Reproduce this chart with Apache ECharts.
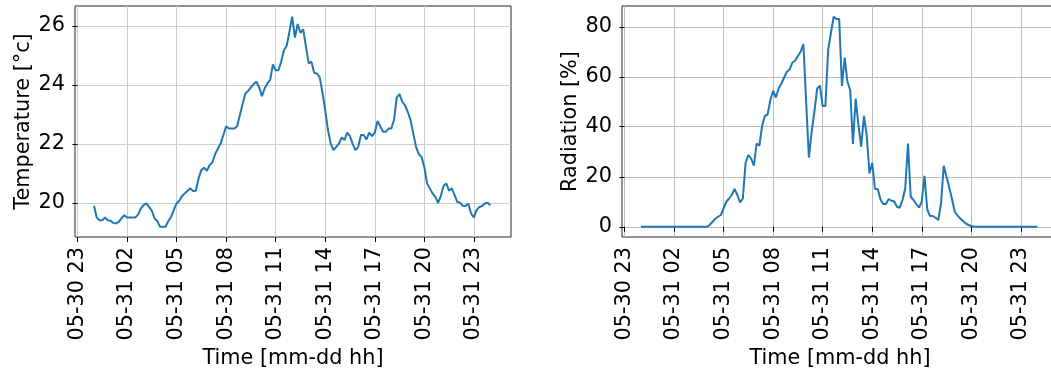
<!DOCTYPE html>
<html>
<head>
<meta charset="utf-8">
<script src="https://cdn.jsdelivr.net/npm/echarts@6/dist/echarts.min.js"></script>
<style>
  html, body { margin: 0; padding: 0; background: #ffffff; }
  #chart { width: 1051px; height: 369px; }
</style>
</head>
<body>
<div id="chart"></div>
<script>
// Readings every 10 minutes on 05-31, from 00:00 to 24:00.
// The x coordinate is hours after 05-30 23:00.
const firstReadingHour = 1;
const readingStepHours = 1 / 6;

const temperature = [
  19.9, 19.5, 19.41, 19.41, 19.5, 19.41, 19.39, 19.32, 19.3, 19.35,
  19.47, 19.58, 19.5, 19.5, 19.5, 19.5, 19.6, 19.8, 19.92, 19.98,
  19.86, 19.73, 19.47, 19.38, 19.19, 19.19, 19.19, 19.38, 19.52, 19.75,
  19.98, 20.07, 20.23, 20.32, 20.41, 20.49, 20.4, 20.41, 20.83, 21.11,
  21.19, 21.09, 21.28, 21.37, 21.65, 21.84, 22.01, 22.3, 22.6, 22.52,
  22.52, 22.52, 22.6, 22.98, 23.35, 23.71, 23.8, 23.92, 24.03, 24.11,
  23.92, 23.62, 23.88, 24.05, 24.17, 24.7, 24.5, 24.5, 24.79, 25.18,
  25.33, 25.8, 26.32, 25.61, 26.07, 25.77, 25.89, 25.3, 24.73, 24.79,
  24.41, 24.39, 24.26, 23.74, 23.15, 22.47, 22.01, 21.79, 21.9, 22.01,
  22.22, 22.13, 22.38, 22.26, 21.99, 21.79, 21.9, 22.3, 22.3, 22.15,
  22.38, 22.26, 22.38, 22.78, 22.6, 22.41, 22.41, 22.52, 22.52, 22.81,
  23.58, 23.69, 23.43, 23.31, 23.09, 22.81, 22.35, 21.9, 21.65, 21.56,
  21.22, 20.66, 20.49, 20.32, 20.2, 20.0, 20.23, 20.57, 20.66, 20.41,
  20.49, 20.26, 20.03, 20.0, 19.9, 19.89, 19.98, 19.64, 19.5, 19.75,
  19.86, 19.89, 19.98, 20.0, 19.92
];

const radiation = [
  0, 0, 0, 0, 0, 0, 0, 0, 0, 0,
  0, 0, 0, 0, 0, 0, 0, 0, 0, 0,
  0, 0, 0, 0, 0, 0.8, 2.0, 3.2, 4.0, 4.7,
  7.3, 10, 11.3, 12.7, 15.1, 12.7, 9.7, 11.3, 25.6, 28.7,
  27.3, 24.4, 33.3, 32.4, 40.3, 44.3, 44.9, 50.7, 54.4, 51.7,
  55.3, 57.3, 59.7, 62, 62.9, 65.7, 66.4, 68.3, 70, 73.1,
  50, 27.6, 38, 46, 55.3, 56.4, 48.3, 48.3, 70.7, 77.5,
  84, 83.1, 83.1, 56.3, 67.7, 58, 54.7, 33.1, 51.3, 40.7,
  32, 44.4, 36.7, 21.3, 25.6, 15.1, 15.1, 10.9, 9.1, 9.1,
  11.1, 10.4, 10.1, 8, 7.6, 10.7, 15.3, 33.3, 12, 10.7,
  9.1, 7.7, 10, 20.4, 6.9, 4.3, 4.3, 3.6, 2.7, 9.3,
  24.4, 20, 15.7, 11, 6, 4.5, 3.3, 2.3, 1.3, 0.7,
  0.3, 0.1, 0, 0, 0, 0, 0, 0, 0, 0,
  0, 0, 0, 0, 0, 0, 0, 0, 0, 0,
  0, 0, 0, 0, 0
];

const timeTickHours = [0, 3, 6, 9, 12, 15, 18, 21, 24];
const timeTickLabels = [
  '05-30 23', '05-31 02', '05-31 05', '05-31 08', '05-31 11',
  '05-31 14', '05-31 17', '05-31 20', '05-31 23'
];
const temperatureTicks = [20, 22, 24, 26];
const radiationTicks = [0, 20, 40, 60, 80];

const font = { fontFamily: 'DejaVu Sans', fontSize: 20.8, color: '#000000' };
const lineBlue = '#1f77b4';

function toPoints(values) {
  return values.map((v, i) => [firstReadingHour + i * readingStepHours, v]);
}

function timeAxis(gridIndex, gridColor) {
  return {
    type: 'value',
    gridIndex: gridIndex,
    min: -0.15,
    max: 26.25,
    name: 'Time [mm-dd hh]',
    nameLocation: 'middle',
    nameGap: 104,
    nameTextStyle: Object.assign({}, font),
    axisLine: { show: false },
    axisTick: {
      show: true, inside: false, length: 5,
      lineStyle: { color: '#000000', width: 1 },
      customValues: timeTickHours
    },
    axisLabel: Object.assign({
      rotate: 90,
      margin: 10,
      customValues: timeTickHours,
      formatter: v => timeTickLabels[Math.round(v / 3)]
    }, font),
    splitLine: { show: true, lineStyle: { color: gridColor, width: 1 } }
  };
}

function valueAxis(gridIndex, name, min, max, ticks, gridColor) {
  return {
    type: 'value',
    gridIndex: gridIndex,
    min: min,
    max: max,
    name: name,
    nameLocation: 'middle',
    nameGap: 41,
    nameRotate: 90,
    nameTextStyle: Object.assign({}, font),
    axisLine: { show: false },
    axisTick: {
      show: true, inside: false, length: 5,
      lineStyle: { color: '#000000', width: 1 },
      customValues: ticks
    },
    axisLabel: Object.assign({ margin: 10, customValues: ticks }, font),
    splitLine: { show: true, lineStyle: { color: gridColor, width: 1 } }
  };
}

const chart = echarts.init(document.getElementById('chart'), null, { renderer: 'canvas' });

chart.setOption({
  animation: false,
  backgroundColor: '#ffffff',
  grid: [
    { left: 75, top: 6, width: 436, height: 231, show: true, outerBoundsMode: 'none',
      borderColor: '#262626', borderWidth: 1, backgroundColor: 'transparent', containLabel: false },
    { left: 622, top: 6, width: 436, height: 231, show: true, outerBoundsMode: 'none',
      borderColor: '#262626', borderWidth: 1, backgroundColor: 'transparent', containLabel: false }
  ],
  xAxis: [timeAxis(0, '#cdcdcd'), timeAxis(1, '#bcbcbc')],
  yAxis: [
    valueAxis(0, 'Temperature [°c]', 18.84, 26.68, temperatureTicks, '#cdcdcd'),
    valueAxis(1, 'Radiation [%]', -4.1, 88.3, radiationTicks, '#bcbcbc')
  ],
  series: [
    {
      type: 'line', xAxisIndex: 0, yAxisIndex: 0,
      data: toPoints(temperature),
      symbol: 'none', showSymbol: false,
      lineStyle: { color: lineBlue, width: 2 },
      itemStyle: { color: lineBlue }
    },
    {
      type: 'line', xAxisIndex: 1, yAxisIndex: 1,
      data: toPoints(radiation),
      symbol: 'none', showSymbol: false,
      lineStyle: { color: lineBlue, width: 2 },
      itemStyle: { color: lineBlue }
    }
  ]
});
</script>
</body>
</html>
